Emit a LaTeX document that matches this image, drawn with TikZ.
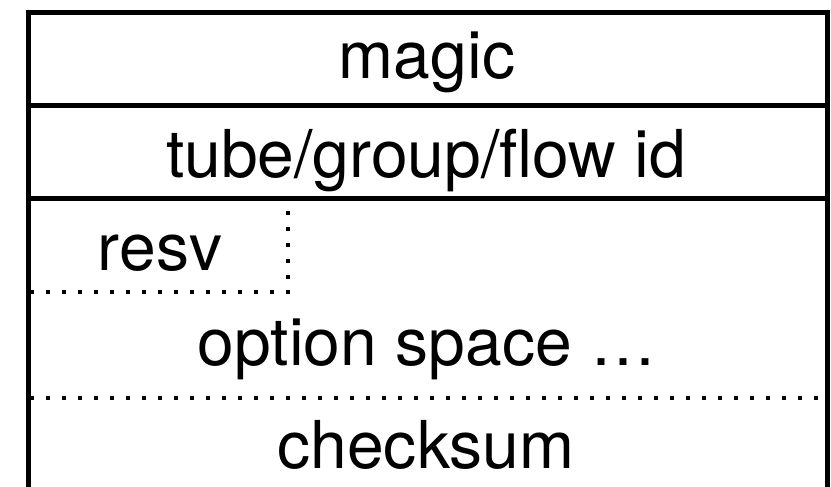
\documentclass[tikz,border=0pt]{standalone}
\usepackage{fontspec}
\setmainfont{TeX Gyre Heros}
\begin{document}
\begin{tikzpicture}[x=1pt,y=-1pt,
  solidline/.style={line width=5pt},
  dotline/.style={line width=3.5pt,dash pattern=on 3.5pt off 12.5pt},
  lbl/.style={anchor=base,inner sep=0pt,font=\fontsize{66}{70}\selectfont}]
\useasboundingbox (0,0) rectangle (831,487);
\clip (0,0) rectangle (831,487);
% outer frame (bottom cut off)
\draw[solidline] (28,495) -- (28,12.5) -- (827,12.5) -- (827,495);
\draw[solidline] (28,105.5) -- (827,105.5);
\draw[solidline] (28,198) -- (827,198);
% dotted separators
\draw[dotline] (288,211) -- (288,293);
\draw[dotline] (30,292) -- (290,292);
\draw[dotline] (30,398) -- (827,398);
% labels
\node[lbl] (magic) at (427,79) {magic};
\node[lbl] (tube) at (426,177) {tube/group/flow id};
\node[lbl] (resv) at (160,270) {resv};
\node[lbl] (option) at (427,365) {option space …};
\node[lbl] (checksum) at (426,468) {checksum};
\end{tikzpicture}
\end{document}
